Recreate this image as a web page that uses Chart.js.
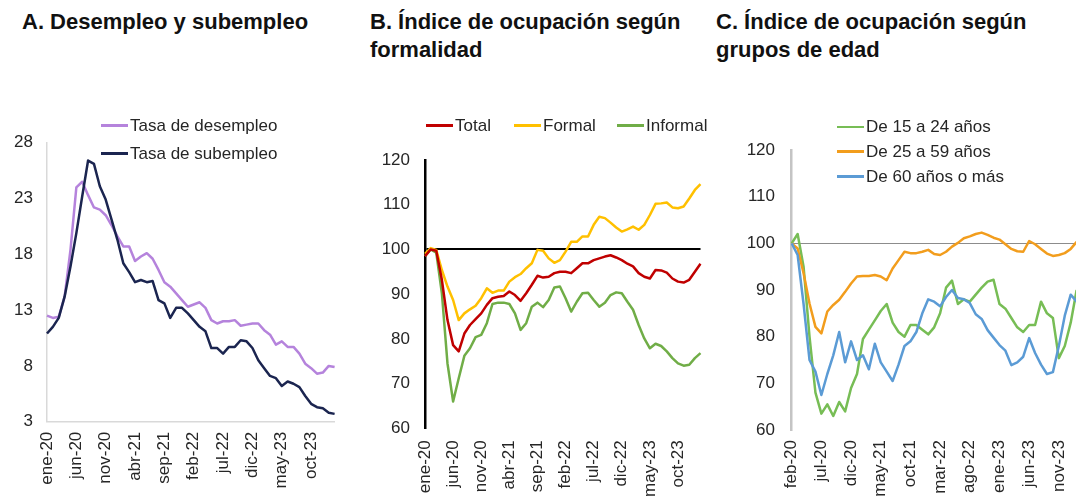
<!DOCTYPE html>
<html lang="es">
<head>
<meta charset="utf-8">
<script src="https://cdn.jsdelivr.net/npm/chart.js@4.4.1/dist/chart.umd.min.js"></script>
<style>
    html, body { margin: 0; padding: 0; background: #fff; }
    body {
        position: relative;
        width: 1076px;
        height: 498px;
        overflow: hidden;
        font-family: "Liberation Sans", Arial, sans-serif;
        color: #262626;
    }
    .titulo {
        position: absolute;
        top: 8px;
        font-size: 22px;
        font-weight: bold;
        line-height: 28px;
        color: #111;
        white-space: nowrap;
    }
    canvas { position: absolute; }
    .item {
        position: absolute;
        display: flex;
        align-items: center;
        height: 20px;
        font-size: 17px;
        white-space: nowrap;
    }
    .muestra { width: 27px; height: 2.5px; margin-right: 2px; }
</style>
</head>
<body>

<div class="titulo" style="left:22px">A. Desempleo y subempleo</div>
<div class="titulo" style="left:370px">B. Índice de ocupación según<br>formalidad</div>
<div class="titulo" style="left:716px">C. Índice de ocupación según<br>grupos de edad</div>

<canvas id="graficoA" width="350" height="398" style="left:0px; top:100px"></canvas>
<canvas id="graficoB" width="360" height="398" style="left:355px; top:100px"></canvas>
<canvas id="graficoC" width="380" height="398" style="left:710px; top:100px"></canvas>

<script>
const MESES = ['ene', 'feb', 'mar', 'abr', 'may', 'jun', 'jul', 'ago', 'sep', 'oct', 'nov', 'dic'];

// etiquetas mensuales tipo "ene-20"
function rangoMeses(anio, mes, cantidad) {
    const out = [];
    for (let i = 0; i < cantidad; i++) {
        const m = (mes + i) % 12;
        const a = anio + Math.floor((mes + i) / 12);
        out.push(MESES[m] + '-' + String(a).slice(-2));
    }
    return out;
}

// --- A. Desempleo y subempleo (ene-20 a feb-24) ---
const mesesA = rangoMeses(2020, 0, 50);
const ticksXA = ['ene-20', 'jun-20', 'nov-20', 'abr-21', 'sep-21', 'feb-22', 'jul-22', 'dic-22', 'may-23', 'oct-23'];
const ticksYA = [3, 8, 13, 18, 23, 28];
const tasaDesempleo = [
    12.5, 12.3, 12.4, 14.2, 18.4, 24.0, 24.5, 23.3, 22.2, 22.0,
    21.5, 20.6, 19.6, 18.7, 18.7, 17.4, 17.8, 18.1, 17.6, 16.6,
    15.5, 15.1, 14.5, 13.9, 13.3, 13.5, 13.7, 13.2, 12.1, 11.8,
    12.0, 12.0, 12.1, 11.6, 11.7, 11.8, 11.8, 11.2, 10.8, 9.9,
    10.2, 9.7, 9.7, 9.1, 8.2, 7.8, 7.3, 7.4, 8.0, 7.9
];
const tasaSubempleo = [
    10.9, 11.5, 12.3, 14.2, 16.9, 19.9, 23.2, 26.4, 26.1, 24.1,
    22.9, 21.1, 19.3, 17.2, 16.4, 15.5, 15.7, 15.5, 15.6, 13.9,
    13.6, 12.3, 13.2, 13.2, 12.7, 12.1, 11.5, 11.1, 9.6, 9.6,
    9.1, 9.7, 9.7, 10.3, 10.2, 9.6, 8.5, 7.8, 7.1, 6.9,
    6.2, 6.6, 6.4, 6.1, 5.3, 4.6, 4.3, 4.2, 3.8, 3.7
];

// --- B. Índice de ocupación según formalidad (ene-20 a feb-24) ---
const mesesB = rangoMeses(2020, 0, 50);
const ticksXB = ticksXA;
const ticksYB = [60, 70, 80, 90, 100, 110, 120];
const ocupTotal = [
    98.5, 100.0, 99.7, 93.2, 84.2, 78.6, 77.2, 81.2, 83.1, 84.4,
    85.7, 87.6, 89.1, 89.4, 89.6, 90.6, 89.8, 88.5, 90.2, 92.1,
    94.1, 93.7, 93.9, 94.7, 95.0, 95.0, 94.7, 95.8, 96.9, 96.9,
    97.6, 98.0, 98.4, 98.7, 98.2, 97.6, 96.8, 96.2, 94.7, 93.9,
    93.5, 95.4, 95.3, 94.8, 93.5, 92.8, 92.6, 93.2, 95.0, 96.8
];
const ocupFormal = [
    99.0, 100.3, 99.9, 95.4, 91.7, 88.7, 84.2, 85.7, 86.6, 87.4,
    89.1, 91.3, 90.3, 90.8, 90.8, 92.8, 93.8, 94.5, 95.8, 96.9,
    99.9, 99.7, 98.0, 97.0, 97.6, 99.5, 101.7, 101.7, 102.9, 102.9,
    105.5, 107.3, 107.0, 106.0, 104.9, 104.0, 104.5, 105.1, 104.4, 105.5,
    107.7, 110.2, 110.3, 110.5, 109.4, 109.2, 109.6, 111.4, 113.3, 114.6
];
const ocupInformal = [
    98.5, 100.0, 99.3, 90.2, 74.5, 66.0, 71.2, 76.2, 77.9, 80.4,
    80.9, 83.5, 87.8, 88.1, 88.1, 87.8, 85.7, 82.0, 83.5, 87.2,
    88.1, 87.1, 88.7, 91.5, 91.7, 89.1, 86.1, 88.3, 90.2, 90.3,
    88.7, 87.2, 88.1, 89.8, 90.4, 90.2, 88.3, 86.5, 83.1, 80.1,
    77.9, 78.9, 78.4, 77.2, 75.7, 74.5, 74.0, 74.2, 75.7, 76.8
];

// --- C. Índice de ocupación según grupos de edad (feb-20 a feb-24) ---
const mesesC = rangoMeses(2020, 1, 49);
const ticksXC = ['feb-20', 'jul-20', 'dic-20', 'may-21', 'oct-21', 'mar-22', 'ago-22', 'ene-23', 'jun-23', 'nov-23'];
const ticksYC = [60, 70, 80, 90, 100, 110, 120];
const edad15a24 = [
    100, 102, 95, 80, 68, 63.5, 65.5, 63, 66, 64,
    69, 72, 79.5, 81.5, 83.5, 85.5, 87, 83, 81, 80,
    82.5, 82.5, 81.5, 80.5, 82, 85, 90.5, 92, 87, 88,
    87.5, 89, 90.5, 91.8, 92.2, 87, 86, 84, 82, 81,
    82.5, 82.5, 87.5, 85, 84, 75.4, 78, 83, 90
];
const edad25a59 = [
    100, 98.9, 93.6, 87.1, 82.1, 80.7, 85.4, 86.8, 87.9, 89.6,
    91.4, 92.9, 93.0, 93.0, 93.2, 92.9, 92.1, 94.6, 96.4, 98.2,
    97.9, 97.9, 98.2, 98.6, 97.7, 97.5, 98.2, 99.3, 100.1, 101.1,
    101.5, 102.0, 102.3, 101.8, 101.2, 100.8, 99.8, 98.8, 98.3, 98.2,
    100.5, 99.8, 98.8, 97.8, 97.3, 97.5, 97.9, 98.8, 100.3
];
const edad60ymas = [
    100, 97.5, 87, 75, 72.5, 67.5, 72, 76, 81, 74.5,
    79, 75, 76, 73, 78.5, 74.5, 72.5, 70.5, 74, 78,
    79, 81, 85, 88, 87.5, 86.5, 88.5, 90, 88.3, 88,
    87.2, 84.8, 83.8, 81.4, 79.8, 78.2, 77, 73.9, 74.5, 75.7,
    79.7, 76.5, 74, 72, 72.4, 78, 84.5, 89, 87.5
];

const FUENTE = { family: '"Liberation Sans", Arial, sans-serif', size: 17 };
const COLOR_TEXTO = '#262626';

function crearGrafico(id, cfg) {
    return new Chart(document.getElementById(id), {
        type: 'line',
        data: {
            labels: cfg.labels,
            datasets: cfg.series.map(s => ({
                label: s.nombre,
                data: s.datos,
                borderColor: s.color,
                borderWidth: 2.5,
                borderJoinStyle: 'round',
                pointRadius: 0,
                tension: 0,
                fill: false,
                order: s.orden
            }))
        },
        options: {
            responsive: false,
            animation: false,
            layout: { padding: { top: cfg.arriba, right: cfg.derecha, left: 0, bottom: 0 } },
            plugins: {
                legend: { display: false },
                tooltip: { enabled: false }
            },
            scales: {
                x: {
                    grid: { display: false, drawTicks: false },
                    border: cfg.bordeX,
                    ticks: {
                        autoSkip: false,
                        minRotation: 90,
                        maxRotation: 90,
                        padding: cfg.separacionX,
                        font: FUENTE,
                        color: COLOR_TEXTO,
                        callback: function (value) {
                            const etiqueta = this.getLabelForValue(value);
                            return cfg.ticksX.includes(etiqueta) ? etiqueta : null;
                        }
                    },
                    afterFit: (scale) => { scale.height = cfg.altoX; }
                },
                y: {
                    min: cfg.ticksY[0],
                    max: cfg.ticksY[cfg.ticksY.length - 1],
                    afterBuildTicks: (scale) => { scale.ticks = cfg.ticksY.map(v => ({ value: v })); },
                    grid: cfg.gridY,
                    border: cfg.bordeY,
                    ticks: {
                        padding: cfg.separacionY,
                        font: FUENTE,
                        color: COLOR_TEXTO
                    },
                    afterFit: (scale) => { scale.width = cfg.anchoY; }
                }
            }
        }
    });
}

// leyenda en HTML encima del gráfico
function crearLeyenda(items) {
    items.forEach(it => {
        const div = document.createElement('div');
        div.className = 'item';
        div.style.left = it.x + 'px';
        div.style.top = (it.y - 10) + 'px';
        div.innerHTML = `<span class="muestra" style="background:${it.color}"></span>${it.nombre}`;
        document.body.appendChild(div);
    });
}

const seriesA = [
    { nombre: 'Tasa de desempleo', datos: tasaDesempleo, color: '#b583dc', orden: 2 },
    { nombre: 'Tasa de subempleo', datos: tasaSubempleo, color: '#1b2550', orden: 1 }
];
const seriesB = [
    { nombre: 'Total', datos: ocupTotal, color: '#c00000', orden: 1 },
    { nombre: 'Formal', datos: ocupFormal, color: '#ffc000', orden: 2 },
    { nombre: 'Informal', datos: ocupInformal, color: '#70ad47', orden: 3 }
];
const seriesC = [
    { nombre: 'De 15 a 24 años', datos: edad15a24, color: '#77bd55', orden: 3 },
    { nombre: 'De 25 a 59 años', datos: edad25a59, color: '#f29d1d', orden: 2 },
    { nombre: 'De 60 años o más', datos: edad60ymas, color: '#5b9bd5', orden: 1 }
];

crearGrafico('graficoA', {
    labels: mesesA, ticksX: ticksXA, ticksY: ticksYA, series: seriesA,
    arriba: 42.7, derecha: 15.4, altoX: 76.3, anchoY: 47,
    separacionX: 10, separacionY: 14,
    bordeX: { display: true, color: '#d9d9d9', width: 1.5 },
    bordeY: { display: true, color: '#d9d9d9', width: 1.5 },
    gridY: { display: false, drawTicks: false }
});

crearGrafico('graficoB', {
    labels: mesesB, ticksX: ticksXB, ticksY: ticksYB, series: seriesB,
    arriba: 60, derecha: 14.5, altoX: 69.7, anchoY: 70,
    separacionX: 12, separacionY: 15,
    bordeX: { display: false },
    bordeY: { display: true, color: '#000', width: 2.5 },
    gridY: {
        display: true,
        drawTicks: false,
        lineWidth: 2,
        color: (ctx) => (ctx.tick && ctx.tick.value === 100 ? '#000' : 'rgba(0,0,0,0)')
    }
});

crearGrafico('graficoC', {
    labels: mesesC, ticksX: ticksXC, ticksY: ticksYC, series: seriesC,
    arriba: 50, derecha: 12.2, altoX: 68, anchoY: 81.7,
    separacionX: 10, separacionY: 16.7,
    bordeX: { display: false },
    bordeY: { display: true, color: '#c4c4c4', width: 2.5 },
    gridY: {
        display: true,
        drawTicks: false,
        lineWidth: 1,
        color: (ctx) => (ctx.tick && ctx.tick.value === 100 ? '#8c8c8c' : 'rgba(0,0,0,0)')
    }
});

crearLeyenda([
    { nombre: seriesA[0].nombre, color: seriesA[0].color, x: 101, y: 125.5 },
    { nombre: seriesA[1].nombre, color: seriesA[1].color, x: 101, y: 153.5 }
]);
crearLeyenda([
    { nombre: seriesB[0].nombre, color: seriesB[0].color, x: 426, y: 125.5 },
    { nombre: seriesB[1].nombre, color: seriesB[1].color, x: 514, y: 125.5 },
    { nombre: seriesB[2].nombre, color: seriesB[2].color, x: 617, y: 125.5 }
]);
crearLeyenda([
    { nombre: seriesC[0].nombre, color: seriesC[0].color, x: 837, y: 127 },
    { nombre: seriesC[1].nombre, color: seriesC[1].color, x: 837, y: 151.5 },
    { nombre: seriesC[2].nombre, color: seriesC[2].color, x: 837, y: 176.5 }
]);
</script>
</body>
</html>
